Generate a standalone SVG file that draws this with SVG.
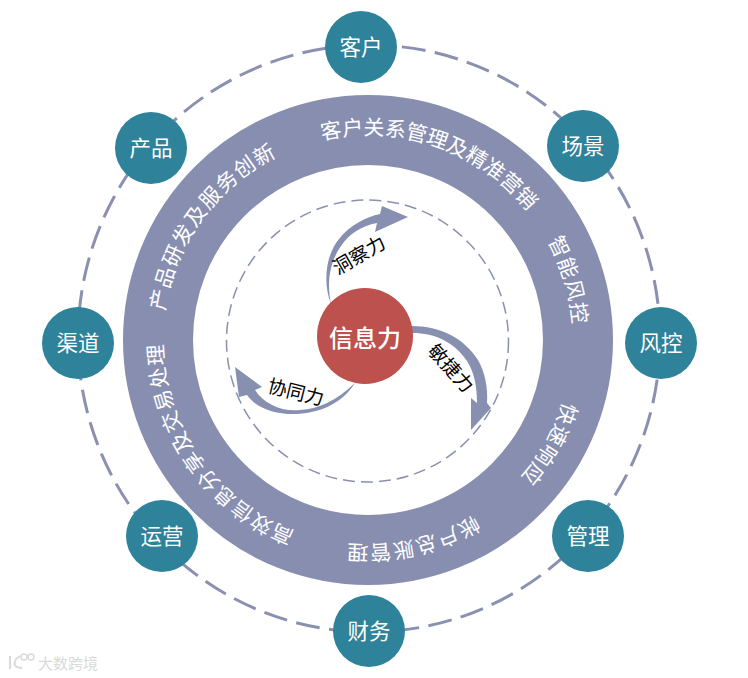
<svg xmlns="http://www.w3.org/2000/svg" width="748" height="678" viewBox="0 0 748 678">
<style>
text{font-family:"Noto Sans CJK SC","Liberation Sans",sans-serif;text-anchor:middle}
.n{fill:#2E8299}
.l{fill:#fff;font-size:21.5px}
.r{fill:#fff;font-size:21px;letter-spacing:1.2px}
.t{letter-spacing:-.2px}
.k{fill:#000;font-size:19px}
.a{fill:#8890B2}
</style>
<defs>
<path id="rp" d="M163 340A205 205 0 1 1 573 340A205 205 0 1 1 163 340Z"/>
</defs>
<rect width="748" height="678" fill="#fff"/>
<g id="connectors">
<ellipse cx="369" cy="338.5" rx="291" ry="293.5" pathLength="1842.5" fill="none" stroke="#8A90B0" stroke-width="3" stroke-dasharray="24 9.5" stroke-dashoffset="-8"/>
</g>
<g id="ring">
<circle cx="368" cy="340" r="210" fill="none" stroke="#878EB0" stroke-width="70"/>
<text class="r t"><textPath href="#rp" startOffset="30.3%">客户关系管理及精准营销</textPath></text>
<text class="r"><textPath href="#rp" startOffset="10%">产品研发及服务创新</textPath></text>
<text class="r"><textPath href="#rp" startOffset="45.4%">智能风控</textPath></text>
<text class="r"><textPath href="#rp" startOffset="58.3%">快速响应</textPath></text>
<text class="r"><textPath href="#rp" startOffset="71.5%">帐户总账管理</textPath></text>
<text class="r"><textPath href="#rp" startOffset="90.3%">高效信息分享及交易处理</textPath></text>
</g>
<circle id="inner-dash" cx="367.5" cy="341" r="141" fill="none" stroke="#8A90B0" stroke-width="1.5" stroke-dasharray="12 6"/>
<g id="arrow-1">
<path class="a" d="M331 304C323 284 325 256 339 239C350 225 366 217 380 214L382 206L408 217L375 232L377 223C361 226 349 234 341 246C331 260 326 280 331 304Z"/>
<text class="k" transform="translate(359 255) rotate(-30)" y="7">洞察力</text>
</g>
<g id="arrow-2">
<path class="a" d="M412 326C440 326 464 338 478 360C485 372 488 388 487 403L491 408L471 430L471 398L477 403C477 385 474 372 467 361C455 343 436 333 412 333Z"/>
<text class="k" transform="translate(451 368) rotate(48)" y="7">敏捷力</text>
</g>
<g id="arrow-3">
<path class="a" d="M355 383C342 404 318 414 293 414C274 414 256 408 247 395L239 397L235 367L262 387L255 390C264 404 282 412 300 410C318 409 336 401 355 383Z"/>
<text class="k" transform="translate(296 392) rotate(14)" y="7">协同力</text>
</g>
<g id="center"><circle cx="365" cy="336" r="48" fill="#BD514E"/><text x="365" y="347" fill="#fff" font-size="24" font-weight="500">信息力</text></g>
<g id="node-kehu"><circle class="n" cx="361" cy="47" r="36"/><text class="l" x="361" y="54.5">客户</text></g>
<g id="node-changjing"><circle class="n" cx="583" cy="146" r="36"/><text class="l" x="583" y="153.5">场景</text></g>
<g id="node-fengkong"><circle class="n" cx="661" cy="343" r="36"/><text class="l" x="661" y="350.5">风控</text></g>
<g id="node-guanli"><circle class="n" cx="588" cy="536" r="36"/><text class="l" x="588" y="543.5">管理</text></g>
<g id="node-caiwu"><circle class="n" cx="369" cy="631" r="36"/><text class="l" x="369" y="638.5">财务</text></g>
<g id="node-yunying"><circle class="n" cx="162" cy="536" r="36"/><text class="l" x="162" y="543.5">运营</text></g>
<g id="node-qudao"><circle class="n" cx="78" cy="343" r="36"/><text class="l" x="78" y="350.5">渠道</text></g>
<g id="node-chanpin"><circle class="n" cx="151" cy="148" r="36"/><text class="l" x="151" y="155.5">产品</text></g>
<g id="watermark">
<path d="M10 656V669M20 656C13 660 12 668 22 668" fill="none" stroke="#DADADA" stroke-width="2"/>
<circle cx="24" cy="657" r="3" fill="none" stroke="#DADADA" stroke-width="1.5"/>
<circle cx="31" cy="657" r="3" fill="none" stroke="#DADADA" stroke-width="1.5"/>
<text x="68" y="669" fill="#DADADA" font-size="15">大数跨境</text>
</g>
</svg>
